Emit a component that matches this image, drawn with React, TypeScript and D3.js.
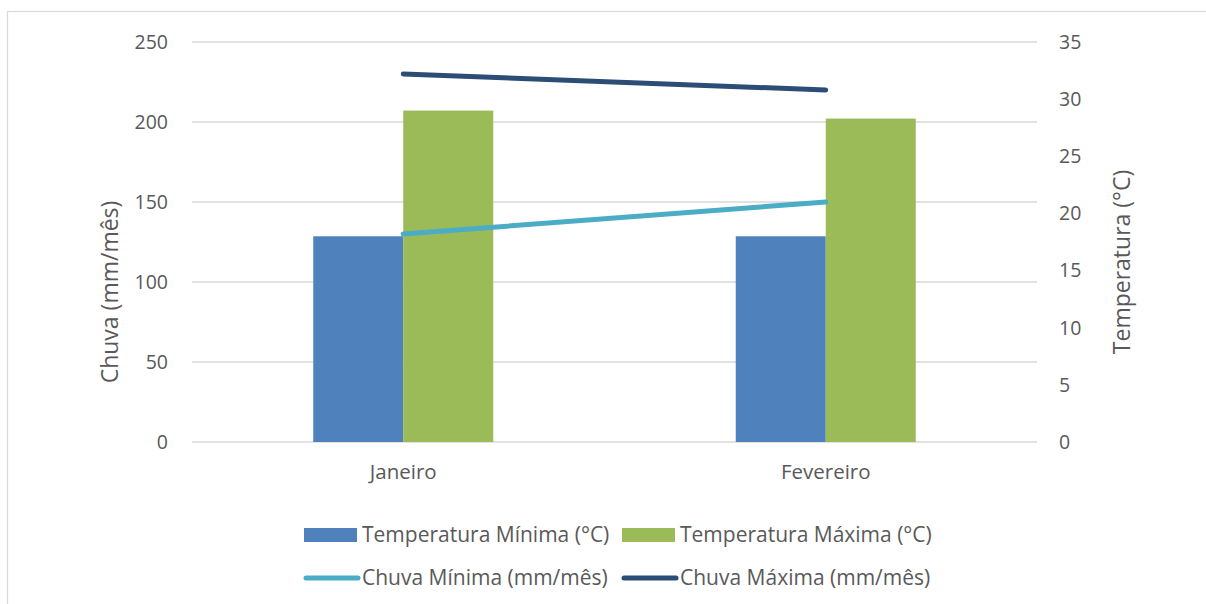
import * as React from 'react';
import {useEffect, useRef} from 'react';
import * as d3 from 'd3';

const categories = ['Janeiro', 'Fevereiro'];
const tempMin = [18, 18];
const tempMax = [29, 28.3];
const chuvaMin = [130, 150];
const chuvaMax = [230, 220];
const chuvaTicks = [0, 50, 100, 150, 200, 250];
const tempTicks = [0, 5, 10, 15, 20, 25, 30, 35];

const width = 1206;
const height = 604;
const font = '"Open Sans", Lato, sans-serif';
const textColor = '#595959';

const barSeries = [
  {name: 'Temperatura Mínima (°C)', values: tempMin, color: '#4F81BD'},
  {name: 'Temperatura Máxima (°C)', values: tempMax, color: '#9BBB59'},
];
const lineSeries = [
  {name: 'Chuva Mínima (mm/mês)', values: chuvaMin, color: '#4BACC6'},
  {name: 'Chuva Máxima (mm/mês)', values: chuvaMax, color: '#2C4D75'},
];

const ComboChart = () => {
  const ref = useRef<SVGSVGElement>(null);

  useEffect(() => {
    const svg = d3.select(ref.current);
    svg.selectAll('*').remove();

    const left = 192, right = 1037, top = 42, bottom = 442;

    const x = d3.scaleBand<string>().domain(categories).range([left, right]);
    const yLeft = d3.scaleLinear().domain([0, 250]).range([bottom, top]);
    const yRight = d3.scaleLinear().domain([0, 35]).range([bottom, top]);
    const barW = 90;

    // chart frame
    svg.append('rect')
      .attr('x', 7.5).attr('y', 11.5)
      .attr('width', width + 20).attr('height', height + 20)
      .attr('fill', 'white').attr('stroke', '#D9D9D9').attr('stroke-width', 1.2);

    // gridlines
    svg.append('g')
      .selectAll('line')
      .data(chuvaTicks)
      .join('line')
      .attr('x1', left).attr('x2', right)
      .attr('y1', d => yLeft(d)).attr('y2', d => yLeft(d))
      .attr('stroke', '#D9D9D9').attr('stroke-width', 1.3);

    const textStyle = (sel: any) => sel
      .style('font-family', font).style('font-size', '19.5px').attr('fill', textColor);

    svg.append('g').call(textStyle)
      .attr('text-anchor', 'end')
      .selectAll('text')
      .data(chuvaTicks)
      .join('text')
      .attr('x', 168).attr('y', d => yLeft(d)).attr('dy', '0.35em')
      .text(d => d);

    svg.append('g').call(textStyle)
      .attr('text-anchor', 'start')
      .selectAll('text')
      .data(tempTicks)
      .join('text')
      .attr('x', 1059).attr('y', d => yRight(d)).attr('dy', '0.35em')
      .text(d => d);

    svg.append('g').call(textStyle)
      .style('font-size', '20.5px')
      .attr('text-anchor', 'middle')
      .selectAll('text')
      .data(categories)
      .join('text')
      .attr('x', d => x(d)! + x.bandwidth() / 2).attr('y', 472).attr('dy', '0.35em')
      .text(d => d);

    // axis titles
    svg.append('text').call(textStyle)
      .style('font-size', '23px')
      .attr('text-anchor', 'middle')
      .attr('transform', 'translate(110,292) rotate(-90)')
      .attr('dy', '0.35em')
      .text('Chuva (mm/mês)');
    svg.append('text').call(textStyle)
      .style('font-size', '23px')
      .attr('text-anchor', 'middle')
      .attr('transform', 'translate(1122,262) rotate(-90)')
      .attr('dy', '0.35em')
      .text('Temperatura (°C)');

    // bars (temperature, right axis)
    barSeries.forEach((s, i) => {
      svg.append('g')
        .selectAll('rect')
        .data(s.values)
        .join('rect')
        .attr('x', (_, j) => x(categories[j])! + x.bandwidth() / 2 - barW + i * barW)
        .attr('y', d => yRight(d))
        .attr('width', barW)
        .attr('height', d => bottom - yRight(d))
        .attr('fill', s.color);
    });

    // lines (rain, left axis)
    lineSeries.forEach(s => {
      const line = d3.line<number>()
        .x((_, j) => x(categories[j])! + x.bandwidth() / 2)
        .y(d => yLeft(d));
      svg.append('path')
        .datum(s.values)
        .attr('d', line)
        .attr('fill', 'none')
        .attr('stroke', s.color)
        .attr('stroke-width', 5)
        .attr('stroke-linecap', 'round');
    });

    // legend
    const legendX = [304, 622];
    const legend = svg.append('g');
    barSeries.forEach((s, i) => {
      legend.append('rect')
        .attr('x', legendX[i]).attr('y', 528).attr('width', 53).attr('height', 14)
        .attr('fill', s.color);
      legend.append('text').call(textStyle)
        .style('font-size', '21px')
        .attr('x', legendX[i] + 58).attr('y', 535).attr('dy', '0.35em')
        .text(s.name);
    });
    lineSeries.forEach((s, i) => {
      legend.append('line')
        .attr('x1', legendX[i] + 2).attr('x2', legendX[i] + 54)
        .attr('y1', 578).attr('y2', 578)
        .attr('stroke', s.color).attr('stroke-width', 5).attr('stroke-linecap', 'round');
      legend.append('text').call(textStyle)
        .style('font-size', '21px')
        .attr('x', legendX[i] + 58).attr('y', 578).attr('dy', '0.35em')
        .text(s.name);
    });
  }, []);

  return <svg ref={ref} width={width} height={height} style={{display: 'block'}}/>;
};

export default function App() {
  return (
    <div style={{position: 'absolute', left: 0, top: 0}}>
      <ComboChart/>
    </div>
  );
}
